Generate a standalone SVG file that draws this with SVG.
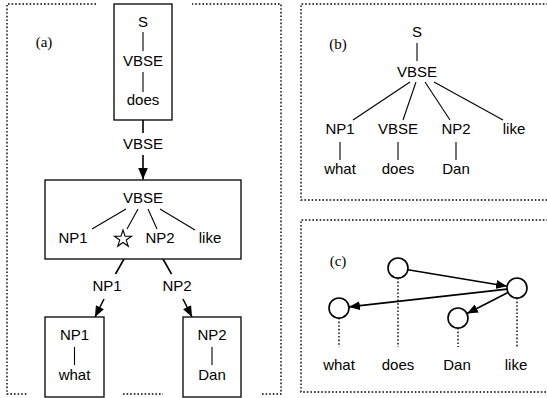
<svg xmlns="http://www.w3.org/2000/svg" width="547" height="398" viewBox="0 0 547 398">
<style>
.t{font-family:"Liberation Sans",Arial,sans-serif;font-size:15px;fill:#000;text-anchor:middle}
.lbl{font-family:"Liberation Serif","Times New Roman",serif;font-size:15px;fill:#000;text-anchor:middle}
.box{fill:#fff;stroke:#000;stroke-width:1.3}
.ln{stroke:#000;stroke-width:1.1;fill:none}
.ar{stroke:#000;stroke-width:1.6;fill:none}
.dot{stroke:#000;stroke-width:1.4;fill:none;stroke-dasharray:1.6 2}
.circ{fill:#fff;stroke:#000;stroke-width:1.6}
</style>
<defs>
<marker id="big" markerUnits="userSpaceOnUse" viewBox="0 0 12 10" refX="12" refY="5" markerWidth="12" markerHeight="10" orient="auto"><path d="M0,0 L12,5 L0,10 z" fill="#000"/></marker>
<marker id="sm" markerUnits="userSpaceOnUse" viewBox="0 0 11 9" refX="11" refY="4.5" markerWidth="11" markerHeight="9" orient="auto"><path d="M0,0 L11,4.5 L0,9 z" fill="#000"/></marker>
</defs>
<g id="frames">
<path class="dot" d="M96,4 H7 V394 H27 M123,394 H163 M262,394 H281 V4 H192"/>
<path class="dot" d="M548,4 H301 V200 H548"/>
<path class="dot" d="M548,220 H301 V392 H548"/>
<text class="lbl" x="44" y="47">(a)</text>
<text class="lbl" x="338" y="49">(b)</text>
<text class="lbl" x="338" y="266">(c)</text>
</g>
<g id="connectors">
<line class="ar" x1="143" y1="120" x2="143" y2="133"/>
<line class="ar" x1="143" y1="155" x2="143" y2="179.5" marker-end="url(#big)"/>
<text class="t" x="143" y="149">VBSE</text>
<line class="ar" x1="124" y1="259" x2="115.5" y2="274"/>
<line class="ar" x1="104" y1="299" x2="95" y2="317" marker-end="url(#sm)"/>
<text class="t" x="107" y="291">NP1</text>
<line class="ar" x1="163" y1="259" x2="171.5" y2="274"/>
<line class="ar" x1="183" y1="299" x2="192" y2="317" marker-end="url(#sm)"/>
<text class="t" x="177" y="291">NP2</text>
</g>
<g id="node-top">
<rect class="box" x="114" y="4" width="58" height="116"/>
<text class="t" x="143" y="27">S</text>
<line class="ln" x1="143" y1="32" x2="143" y2="51"/>
<text class="t" x="143" y="66">VBSE</text>
<line class="ln" x1="143" y1="72" x2="143" y2="92"/>
<text class="t" x="143" y="105">does</text>
</g>
<g id="node-mid">
<rect class="box" x="45" y="180" width="196" height="79"/>
<text class="t" x="143" y="203">VBSE</text>
<text class="t" x="73" y="243">NP1</text>
<text class="t" x="160" y="243">NP2</text>
<text class="t" x="210" y="243">like</text>
<line class="ln" x1="126" y1="209" x2="92" y2="229"/>
<line class="ln" x1="138" y1="209" x2="127" y2="229"/>
<line class="ln" x1="148" y1="209" x2="157" y2="229"/>
<line class="ln" x1="160" y1="209" x2="195" y2="230"/>
<polygon points="123,230 125.02,236.22 131.56,236.22 126.27,240.06 128.29,246.28 123,242.44 117.71,246.28 119.73,240.06 114.44,236.22 120.98,236.22" fill="#fff" stroke="#000" stroke-width="1.1"/>
</g>
<g id="node-np1">
<rect class="box" x="45" y="317" width="59" height="80"/>
<text class="t" x="74.5" y="340">NP1</text>
<line class="ln" x1="74.5" y1="347" x2="74.5" y2="365"/>
<text class="t" x="74.5" y="380">what</text>
</g>
<g id="node-np2">
<rect class="box" x="183" y="317" width="58" height="80"/>
<text class="t" x="212" y="340">NP2</text>
<line class="ln" x1="212" y1="347" x2="212" y2="365"/>
<text class="t" x="212" y="380">Dan</text>
</g>
<g id="tree-b">
<text class="t" x="417" y="37">S</text>
<line class="ln" x1="417" y1="43" x2="417" y2="61"/>
<text class="t" x="417" y="77">VBSE</text>
<line class="ln" x1="410" y1="82" x2="353" y2="120"/>
<line class="ln" x1="416" y1="82" x2="403" y2="120"/>
<line class="ln" x1="425" y1="82" x2="450" y2="120"/>
<line class="ln" x1="434" y1="82" x2="503" y2="120"/>
<text class="t" x="340" y="134">NP1</text>
<text class="t" x="398" y="134">VBSE</text>
<text class="t" x="456" y="134">NP2</text>
<text class="t" x="514" y="134">like</text>
<line class="ln" x1="340" y1="142" x2="340" y2="160"/>
<line class="ln" x1="398" y1="142" x2="398" y2="160"/>
<line class="ln" x1="456" y1="142" x2="456" y2="160"/>
<text class="t" x="340" y="174">what</text>
<text class="t" x="398" y="174">does</text>
<text class="t" x="456" y="174">Dan</text>
</g>
<g id="graph-c">
<path class="dot" d="M339,318 V347 M398,278 V347 M458,328 V347 M517,298 V347"/>
<line class="ar" x1="407.9" y1="269.7" x2="507.1" y2="286.3" marker-end="url(#sm)"/>
<line class="ar" x1="507.1" y1="289.1" x2="348.9" y2="306.9" marker-end="url(#sm)"/>
<line class="ar" x1="508" y1="292.5" x2="467" y2="313.5" marker-end="url(#sm)"/>
<circle class="circ" cx="398" cy="268" r="10"/>
<circle class="circ" cx="517" cy="288" r="10"/>
<circle class="circ" cx="339" cy="308" r="10"/>
<circle class="circ" cx="458" cy="318" r="10"/>
<text class="t" x="339" y="370">what</text>
<text class="t" x="398" y="370">does</text>
<text class="t" x="457" y="370">Dan</text>
<text class="t" x="516" y="370">like</text>
</g>
</svg>
